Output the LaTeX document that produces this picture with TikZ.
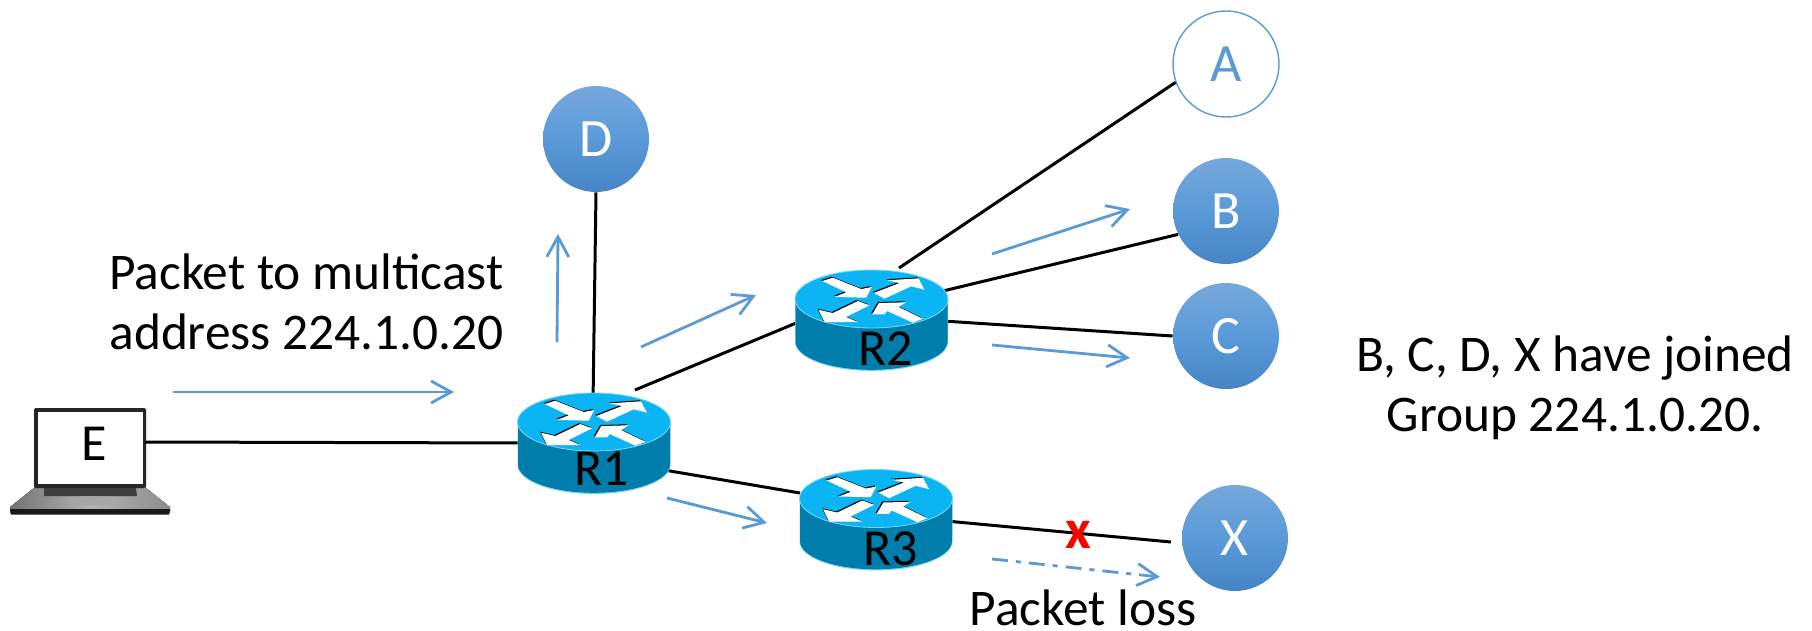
\documentclass[tikz,border=0pt]{standalone}
\usepackage{fontspec}
\setmainfont{Carlito}
\usetikzlibrary{arrows.meta,calc}
\definecolor{flow}{HTML}{5B9BD5}
\definecolor{htop}{HTML}{76A8DC}
\definecolor{hmid}{HTML}{5A9AD8}
\definecolor{hbot}{HTML}{4585C5}
\definecolor{rtop}{HTML}{0BB5F3}
\definecolor{rbody}{HTML}{007DAA}
\definecolor{redge}{HTML}{7CD6F7}
\tikzset{
  x=0.5pt,y=-0.5pt,
  host/.style={circle,minimum size=53pt,inner sep=0pt,text=white,font=\fontsize{27pt}{30pt}\selectfont,
    top color=htop,bottom color=hbot,middle color=hmid},
  hostopen/.style={circle,minimum size=53pt,inner sep=0pt,draw=flow,line width=0.7pt,fill=white,text=flow,font=\fontsize{27pt}{30pt}\selectfont},
  link/.style={black,line width=1.5pt},
  flowarrow/.style={flow,line width=1.4pt,-{Straight Barb[length=10pt,width=11pt,line width=1.4pt]}},
  lostarrow/.style={flowarrow,dash pattern=on 8pt off 4pt on 2.5pt off 4pt},
  note/.style={font=\fontsize{25.7pt}{28pt}\selectfont,inner sep=0pt},
  rlabel/.style={font=\fontsize{26pt}{28pt}\selectfont,inner sep=0pt,anchor=base},
  routerbox/.style={minimum width=76.5pt,minimum height=50pt,inner sep=0pt},
}
\newcommand{\routergfx}[2]{%
  \begin{scope}[shift={(#1,#2)}]
    \fill[redge] (-76.5,0) -- (-76.5,43) arc[start angle=180,end angle=0,x radius=76.5,y radius=29] -- (76.5,0) -- cycle;
    \fill[rbody] (-76,0) -- (-76,42.5) arc[start angle=180,end angle=0,x radius=76,y radius=28.3] -- (76,0) -- cycle;
    \fill[rtop,draw=redge,line width=0.4pt] (0,0) ellipse[x radius=76.5,y radius=29];
    \foreach \dx/\dy/\c in {-1/-1/black,0/0/white}{
      \begin{scope}[shift={(\dx,\dy)}]
        \fill[\c] (-49.3,-18) -- (-38.7,-21.3) -- (-10.3,-10) -- (0.3,-12) -- (-5.3,-1.3) -- (-37,-2) -- (-25.3,-6.7) -- cycle;
        \fill[\c] (2.3,-6) -- (28,-16) -- (15.7,-18.7) -- (47,-20.7) -- (53,-9.3) -- (39.7,-12.7) -- (13,-0.3) -- cycle;
        \fill[\c] (-53,10.7) -- (-38.7,14) -- (-13.7,2) -- (-2,6.3) -- (-25.3,18) -- (-13.7,23) -- (-47,23) -- cycle;
        \fill[\c] (0.7,15.3) -- (7.3,4) -- (34.7,3.3) -- (27,8) -- (51.3,19.7) -- (41.3,23.7) -- (15.7,12) -- (13,15.3) -- cycle;
      \end{scope}
    }
  \end{scope}
}
\begin{document}
\begin{tikzpicture}
\useasboundingbox (0,0) rectangle (1812,631);
% laptop
\fill[left color=black!55,right color=black!45,middle color=black!30] (35,487) -- (145,487) -- (170,507) -- (170,513) -- (10,513) -- (10,507) -- cycle;
\fill[black!75] (44,488) -- (136,488) -- (137,496) -- (44,496) -- cycle;
\fill[black!35] (71,497) -- (110,497) -- (111,505) -- (71,505) -- cycle;
\fill[black!90] (10,509) -- (170,509) -- (169,514.5) -- (11,514.5) -- cycle;
\fill[black!85,rounded corners=1pt] (34,408) rectangle (146,488);
\fill[white] (37.5,412) rectangle (142.5,484);
\node[font=\fontsize{26pt}{28pt}\selectfont,inner sep=0pt] (e) at (94,444) {E};
% hosts
\node[hostopen] (a) at (1226,64) {A};
\node[host] (b) at (1226,211) {B};
\node[host] (c) at (1226,336) {C};
\node[host] (d) at (596,139) {D};
\node[host] (x) at (1235,538) {X};
% router anchors
\node[routerbox] (r1) at (594,443) {};
\node[routerbox] (r2) at (871,318) {};
\node[routerbox] (r3) at (876,519) {};
% links
\draw[link] ([shift={(51,-2)}]e.center) -- ([shift={(-70,0)}]r1.center);
\draw[link] (d.south) -- ([shift={(-1,-40)}]r1.center);
\draw[link] ([shift={(41,-53)}]r1.center) -- ([shift={(-70,3)}]r2.center);
\draw[link] ([shift={(28,-50)}]r2.center) -- (a.200);
\draw[link] ([shift={(72,-27)}]r2.center) -- (b.206);
\draw[link] ([shift={(72,3)}]r2.center) -- (c.west);
\draw[link] ([shift={(70,27)}]r1.center) -- ([shift={(-76,-26)}]r3.center);
\coordinate (xstub) at (1171,542);
\draw[link] ([shift={(70,2)}]r3.center) -- (xstub);
% routers
\routergfx{594}{422}
\routergfx{871.5}{299}
\routergfx{876}{498.5}
\node[rlabel] (r1l) at (602,485) {R1};
\node[rlabel] (r2l) at (886,365) {R2};
\node[rlabel] (r3l) at (891,565) {R3};
% flow arrows
\coordinate (f1a) at (173,392); \coordinate (f1b) at (454,392);
\coordinate (f2a) at (557,342); \coordinate (f2b) at (558,234);
\coordinate (f3a) at (641,347); \coordinate (f3b) at (756,295);
\coordinate (f4a) at (992,254); \coordinate (f4b) at (1130,209);
\coordinate (f5a) at (992,345); \coordinate (f5b) at (1130,358);
\coordinate (f6a) at (667,498); \coordinate (f6b) at (767,523);
\coordinate (f7a) at (992,559); \coordinate (f7b) at (1160,577);
\draw[flowarrow] (f1a) -- (f1b);
\draw[flowarrow] (f2a) -- (f2b);
\draw[flowarrow] (f3a) -- (f3b);
\draw[flowarrow] (f4a) -- (f4b);
\draw[flowarrow] (f5a) -- (f5b);
\draw[flowarrow] (f6a) -- (f6b);
\draw[lostarrow] (f7a) -- (f7b);
% loss mark
\node[text=red,inner sep=0pt,font=\fontsize{28pt}{28pt}\selectfont\bfseries] (lossx) at (1078,535) {x};
% notes
\node[note,anchor=base west] (n1) at (109,289) {Packet to multicast};
\node[note,anchor=base west] (n2) at (109,349) {address 224.1.0.20};
\node[note,anchor=base] (n3) at (1575,371) {B, C, D, X have joined};
\node[note,anchor=base] (n4) at (1575,431) {Group 224.1.0.20.};
\node[note,anchor=base] (n5) at (1083,625) {Packet loss};
\end{tikzpicture}
\end{document}
